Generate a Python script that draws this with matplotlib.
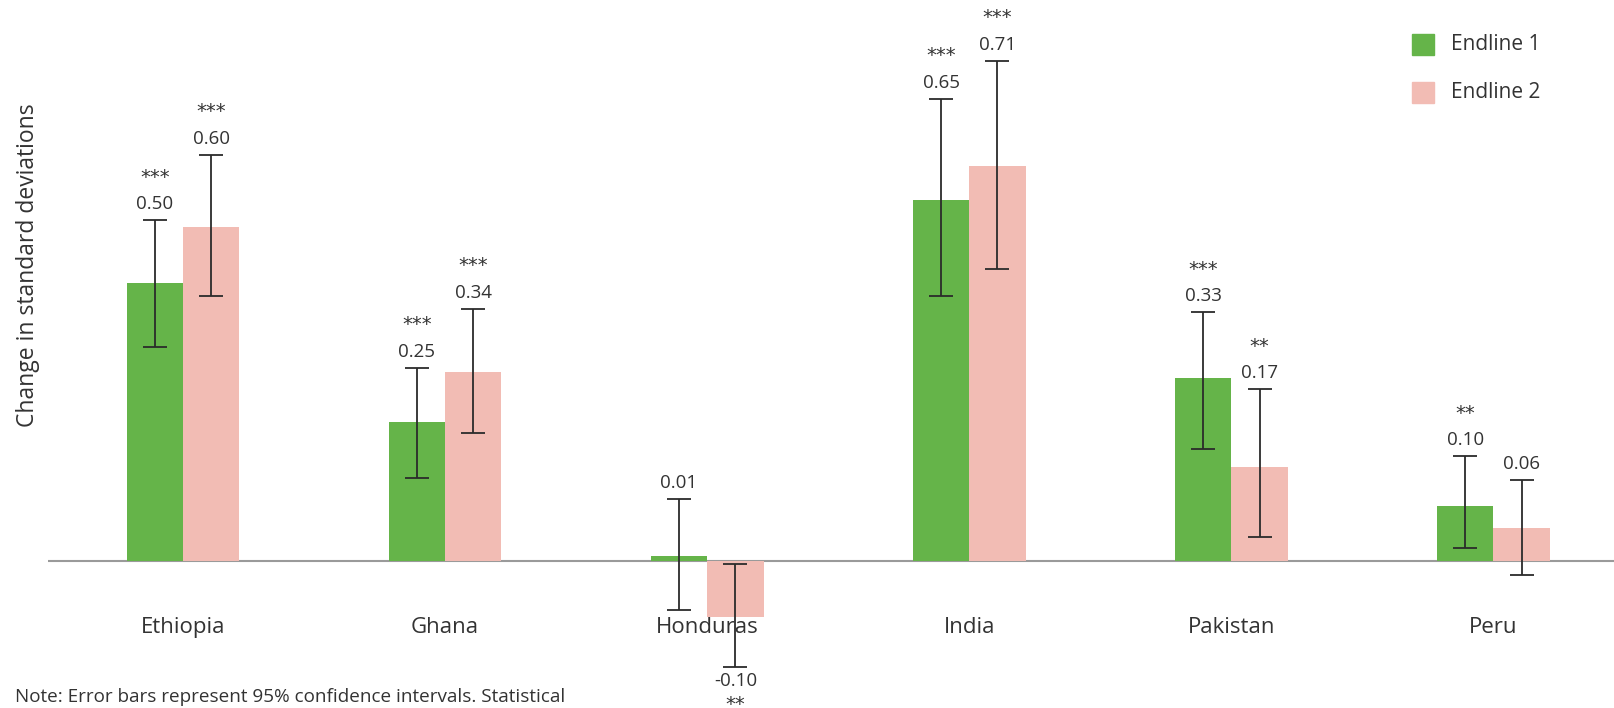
import numpy as np
import matplotlib
matplotlib.use('Agg')
import matplotlib.pyplot as plt
from matplotlib.patches import Rectangle

plt.rcParams['font.family'] = ['Open Sans', 'DejaVu Sans']

# Effect sizes by country and survey round
countries = ['Ethiopia', 'Ghana', 'Honduras', 'India', 'Pakistan', 'Peru']
endline1 = [0.50, 0.25, 0.01, 0.65, 0.33, 0.10]
endline2 = [0.60, 0.34, -0.10, 0.71, 0.17, 0.06]

# 95% confidence interval bounds
endline1_lo = [0.385, 0.150, -0.087, 0.476, 0.202, 0.024]
endline1_hi = [0.613, 0.348, 0.111, 0.831, 0.448, 0.189]
endline2_lo = [0.476, 0.231, -0.190, 0.526, 0.043, -0.024]
endline2_hi = [0.731, 0.454, -0.005, 0.900, 0.309, 0.146]

# Significance stars
endline1_sig = ['***', '***', '', '***', '***', '**']
endline2_sig = ['***', '***', '**', '***', '**', '']

labels = ['Endline 1', 'Endline 2']
green = '#65b449'
pink = '#f2bcb4'
text_color = '#333333'

fig = plt.figure(figsize=(16.14, 7.08), dpi=100)
ax = fig.add_axes([48 / 1614, 0, 1 - 48 / 1614, 1])

x = np.arange(len(countries))
w = 0.215

series = [
    (x - w / 2, endline1, endline1_lo, endline1_hi, endline1_sig, green),
    (x + w / 2, endline2, endline2_lo, endline2_hi, endline2_sig, pink),
]

for xs, vals, lo, hi, sig, color in series:
    vals = np.array(vals)
    lo = np.array(lo)
    hi = np.array(hi)
    ax.bar(xs, vals, width=w, color=color, zorder=2)
    ax.errorbar(xs, vals, yerr=[vals - lo, hi - vals], fmt='none',
                ecolor='#2b2b2b', elinewidth=1.3, capsize=8.5,
                capthick=1.3, zorder=3)
    for xi, v, l, h, s in zip(xs, vals, lo, hi, sig):
        if v >= 0:
            ax.annotate(f'{v:.2f}', (xi, h), xytext=(0, 8),
                        textcoords='offset points', ha='center',
                        va='baseline', fontsize=13.5, color=text_color)
            if s:
                ax.annotate(s, (xi, h), xytext=(0, 27),
                            textcoords='offset points', ha='center',
                            va='baseline', fontsize=14, color=text_color,
                            family='DejaVu Sans')
        else:
            ax.annotate(f'{v:.2f}', (xi, l), xytext=(0, -14),
                        textcoords='offset points', ha='center',
                        va='baseline', fontsize=13.5, color=text_color)
            if s:
                ax.annotate(s, (xi, l), xytext=(0, -31),
                            textcoords='offset points', ha='center',
                            va='baseline', fontsize=14, color=text_color,
                            family='DejaVu Sans')

ax.axhline(0, color='#9a9a9a', linewidth=1.5, zorder=1)

# Country names under each pair of bars
for xi, name in zip(x, countries):
    ax.text(xi, -0.12, name, ha='center', va='center', fontsize=16,
            color=text_color)

ax.set_xlim(-0.515, 5.46)
ax.set_ylim(-0.264, 1.009)
ax.axis('off')

fig.text(0.0175, 0.626, 'Change in standard deviations', rotation=90,
         ha='center', va='center', fontsize=16.5, color=text_color)

# Legend drawn as swatches with labels
for yc, color, label in zip([0.937, 0.869], [green, pink], labels):
    fig.add_artist(Rectangle((0.8748, yc - 0.0148), 0.0136, 0.0297,
                             transform=fig.transFigure, color=color))
    fig.text(0.899, yc, label, ha='left', va='center', fontsize=15,
             color=text_color)

fig.text(0.009, 0.016, 'Note: Error bars represent 95% confidence intervals. Statistical',
         ha='left', va='center', fontsize=13.6, color=text_color)

fig.savefig('out.png', dpi=100)
